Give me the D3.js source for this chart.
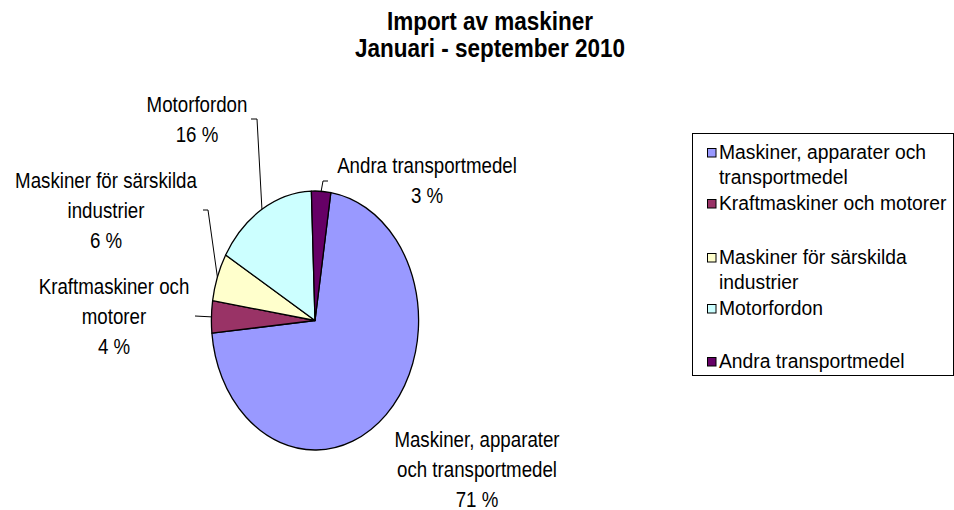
<!DOCTYPE html>
<html>
<head>
<meta charset="utf-8">
<script src="https://cdn.jsdelivr.net/npm/d3@7"></script>
<style>
  html, body { margin: 0; padding: 0; background: #fff; }
  text { font-family: "Liberation Sans", Arial, sans-serif; fill: #000; }
</style>
</head>
<body>
<svg id="chart" width="954" height="510"></svg>
<script>
// ---------- data ----------
const titleLines = ["Import av maskiner", "Januari - september 2010"];
const categories = [
  "Maskiner, apparater och transportmedel",
  "Kraftmaskiner och motorer",
  "Maskiner för särskilda industrier",
  "Motorfordon",
  "Andra transportmedel"
];
const values = [71, 4, 6, 16, 3];
const colors = ["#9999FF", "#993366", "#FFFFCC", "#CCFFFF", "#660066"];
const labelLines = [
  ["Maskiner, apparater", "och transportmedel"],
  ["Kraftmaskiner och", "motorer"],
  ["Maskiner för särskilda", "industrier"],
  ["Motorfordon"],
  ["Andra transportmedel"]
];
const legendLines = [
  ["Maskiner, apparater och", "transportmedel"],
  ["Kraftmaskiner och motorer"],
  ["Maskiner för särskilda", "industrier"],
  ["Motorfordon"],
  ["Andra transportmedel"]
];

// ---------- layout ----------
const W = 954, H = 510;
const cx = 315, cy = 320.5, R = 129.5, sx = 0.8;   // elliptical pie
const startAngle = 8.8 * Math.PI / 180;
const textScale = 0.85;
// label anchors (center x, first baseline) and leader elbows
const labelLayout = [
  { x: 477, y: 447, leader: null },
  { x: 114, y: 294, leader: [[195, 316]] },
  { x: 106, y: 188, leader: [[208, 210], [203, 210]] },
  { x: 197, y: 112, leader: [[257, 119], [251, 119]] },
  { x: 427, y: 173, leader: [[323, 181], [328, 181]] }
];
const labelLineH = 30;
const legendBox = { x: 692, y: 133, w: 261, h: 242 };
const legendRowTop = [148, 199, 253, 304, 357];
const legendLineH = 25;

const svg = d3.select("#chart");

function sText(parent, x, y, str, opts) {
  opts = opts || {};
  const g = parent.append("g")
    .attr("transform", `translate(${x},${y}) scale(${opts.scale || textScale},1)`);
  return g.append("text")
    .attr("x", 0).attr("y", 0)
    .attr("text-anchor", opts.anchor || "middle")
    .style("font-size", (opts.size || 22) + "px")
    .style("font-weight", opts.weight || "normal")
    .text(str);
}

// title
titleLines.forEach((t, i) => {
  sText(svg, 490, 30 + i * 27, t, { size: 25, weight: "bold", scale: 0.9 });
});

// pie
const data = categories.map((c, i) => ({ cat: c, value: values[i], color: colors[i], i }));
const pie = d3.pie().sort(null).value(d => d.value)
  .startAngle(startAngle).endAngle(startAngle + 2 * Math.PI);
const arcs = pie(data);
const arc = d3.arc().innerRadius(0).outerRadius(R);

const pieG = svg.append("g").attr("transform", `translate(${cx},${cy}) scale(${sx},1)`);
pieG.selectAll("path").data(arcs).join("path")
  .attr("d", arc)
  .attr("fill", d => d.data.color)
  .attr("stroke", "#000")
  .attr("stroke-width", 1.3)
  .attr("vector-effect", "non-scaling-stroke")
  .attr("stroke-linejoin", "round");

// edge point helper (in page coords)
function edgePoint(a) {
  return [cx + sx * R * Math.sin(a), cy - R * Math.cos(a)];
}

// leaders
const line = d3.line();
arcs.forEach((d, i) => {
  const L = labelLayout[i];
  if (!L.leader) return;
  const mid = (d.startAngle + d.endAngle) / 2;
  const pts = [edgePoint(mid)].concat(L.leader);
  svg.append("path")
    .attr("d", line(pts))
    .attr("fill", "none")
    .attr("stroke", "#000")
    .attr("stroke-width", 1);
});

// data labels
arcs.forEach((d, i) => {
  const L = labelLayout[i];
  const lines = labelLines[i].concat([d3.format("d")(d.data.value) + " %"]);
  lines.forEach((t, j) => sText(svg, L.x, L.y + j * labelLineH, t));
});

// legend
svg.append("rect")
  .attr("x", legendBox.x + 0.5).attr("y", legendBox.y + 0.5)
  .attr("width", legendBox.w).attr("height", legendBox.h)
  .attr("fill", "#fff").attr("stroke", "#000").attr("stroke-width", 1);

data.forEach((d, i) => {
  const top = legendRowTop[i];
  svg.append("rect")
    .attr("x", 707.5).attr("y", top + 0.5)
    .attr("width", 8.5).attr("height", 8.5)
    .attr("fill", d.color).attr("stroke", "#000").attr("stroke-width", 1);
  legendLines[i].forEach((t, j) => {
    sText(svg, 719, top + 11 + j * legendLineH, t, { anchor: "start", size: 21, scale: 0.92 });
  });
});
</script>
</body>
</html>
